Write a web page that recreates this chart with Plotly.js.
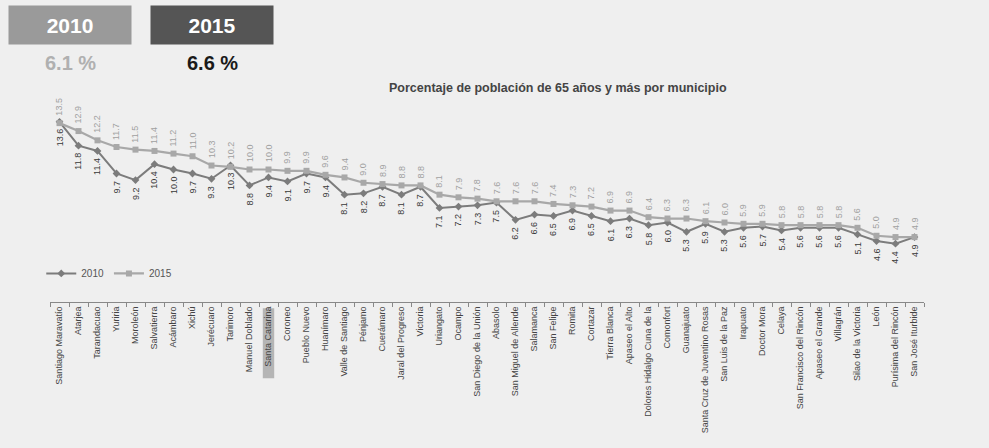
<!DOCTYPE html>
<html>
<head>
<meta charset="utf-8">
<script src="https://cdn.plot.ly/plotly-3.0.1.min.js"></script>
<style>html,body{margin:0;padding:0;background:#efefef;}#chart{width:989px;height:448px;}</style>
</head>
<body>
<div id="chart"></div>
<script>
const municipios = ["Santiago Maravatío","Atarjea","Tarandacuao","Yuriria","Moroleón","Salvatierra","Acámbaro","Xichú","Jerécuaro","Tarimoro","Manuel Doblado","Santa Catarina","Coroneo","Pueblo Nuevo","Huanímaro","Valle de Santiago","Pénjamo","Cuerámaro","Jaral del Progreso","Victoria","Uriangato","Ocampo","San Diego de la Unión","Abasolo","San Miguel de Allende","Salamanca","San Felipe","Romita","Cortazar","Tierra Blanca","Apaseo el Alto","Dolores Hidalgo Cuna de la","Comonfort","Guanajuato","Santa Cruz de Juventino Rosas","San Luis de la Paz","Irapuato","Doctor Mora","Celaya","San Francisco del Rincón","Apaseo el Grande","Villagrán","Silao de la Victoria","León","Purísima del Rincón","San José Iturbide"];
const v2010 = [13.6,11.8,11.4,9.7,9.2,10.4,10.0,9.7,9.3,10.3,8.8,9.4,9.1,9.7,9.4,8.1,8.2,8.7,8.1,8.7,7.1,7.2,7.3,7.5,6.2,6.6,6.5,6.9,6.5,6.1,6.3,5.8,6.0,5.3,5.9,5.3,5.6,5.7,5.4,5.6,5.6,5.6,5.1,4.6,4.4,4.9];
const v2015 = [13.5,12.9,12.2,11.7,11.5,11.4,11.2,11.0,10.3,10.2,10.0,10.0,9.9,9.9,9.6,9.4,9.0,8.9,8.8,8.8,8.1,7.9,7.8,7.6,7.6,7.6,7.4,7.3,7.2,6.9,6.9,6.4,6.3,6.3,6.1,6.0,5.9,5.9,5.8,5.8,5.8,5.8,5.6,5.0,4.9,4.9];
const seriesNames = ["2010","2015"];
const totals = ["6.1 %","6.6 %"];
const titleText = "Porcentaje de población de 65 años y más por municipio";
const highlighted = "Santa Catarina";

const c2010 = "#7c7c7c", c2015 = "#a8a8a8";
const fontFam = "Liberation Sans, Arial, sans-serif";

const traces = [
  {x: municipios, y: v2010, name: seriesNames[0], type: "scatter", mode: "lines+markers",
   line: {color: c2010, width: 2}, marker: {symbol: "diamond", size: 6, color: c2010}},
  {x: municipios, y: v2015, name: seriesNames[1], type: "scatter", mode: "lines+markers",
   line: {color: c2015, width: 2.2}, marker: {symbol: "square", size: 6, color: c2015}}
];

const ann = [];
v2010.forEach((v, i) => ann.push({x: municipios[i], y: v, xref: "x", yref: "y", text: v.toFixed(1),
  showarrow: false, textangle: -90, yanchor: "top", xanchor: "center", yshift: -5,
  font: {family: fontFam, size: 9, color: "#383838"}}));
v2015.forEach((v, i) => ann.push({x: municipios[i], y: v, xref: "x", yref: "y", text: v.toFixed(1),
  showarrow: false, textangle: -90, yanchor: "bottom", xanchor: "center", yshift: 5,
  font: {family: fontFam, size: 9, color: "#a0a0a0"}}));

// header boxes
const hdr = (x, y, txt, extra) => Object.assign({xref: "paper", yref: "paper", x: x, y: y, xanchor: "center", yanchor: "middle",
  text: txt, showarrow: false}, extra);
ann.push(hdr(0.0229, 1.307, "<b>" + seriesNames[0] + "</b>", {width: 120, height: 36, bgcolor: "#9a9a9a", font: {family: fontFam, size: 21, color: "#fff"}}));
ann.push(hdr(0.1854, 1.307, "<b>" + seriesNames[1] + "</b>", {width: 120, height: 36, bgcolor: "#555555", font: {family: fontFam, size: 21, color: "#fff"}}));
ann.push(hdr(0.0229, 1.127, "<b>" + totals[0] + "</b>", {font: {family: fontFam, size: 20, color: "#b0b0b0"}}));
ann.push(hdr(0.1854, 1.127, "<b>" + totals[1] + "</b>", {font: {family: fontFam, size: 20, color: "#1a1a1a"}}));
ann.push(hdr(0.581, 1.01, "<b>" + titleText + "</b>", {font: {family: fontFam, size: 12.5, color: "#444"}}));

const hiIdx = municipios.indexOf(highlighted);
const layout = {
  width: 989, height: 448,
  margin: {l: 50, r: 65, t: 90, b: 146},
  paper_bgcolor: "#efefef", plot_bgcolor: "rgba(0,0,0,0)",
  showlegend: true,
  legend: {orientation: "h", x: -0.01, y: 0.135, xanchor: "left", yanchor: "middle",
    bgcolor: "rgba(0,0,0,0)", font: {family: fontFam, size: 10, color: "#555"}, itemwidth: 30},
  xaxis: {type: "category", tickangle: -90, tickson: "boundaries", ticks: "outside", ticklen: 4,
    tickcolor: "#888", showline: true, linecolor: "#888", linewidth: 1, showgrid: false,
    automargin: false, tickfont: {family: fontFam, size: 9, color: "#444"}, range: [-0.5, municipios.length - 0.5]},
  yaxis: {range: [0, 16], visible: false, showgrid: false, zeroline: false, automargin: false},
  shapes: [{type: "rect", xref: "x", yref: "paper", x0: hiIdx - 0.3, x1: hiIdx + 0.3, y0: -0.03, y1: -0.36,
    fillcolor: "#b5b5b5", line: {width: 0}, layer: "below"}],
  annotations: ann
};

Plotly.newPlot("chart", traces, layout, {displayModeBar: false, staticPlot: true});
</script>
</body>
</html>
